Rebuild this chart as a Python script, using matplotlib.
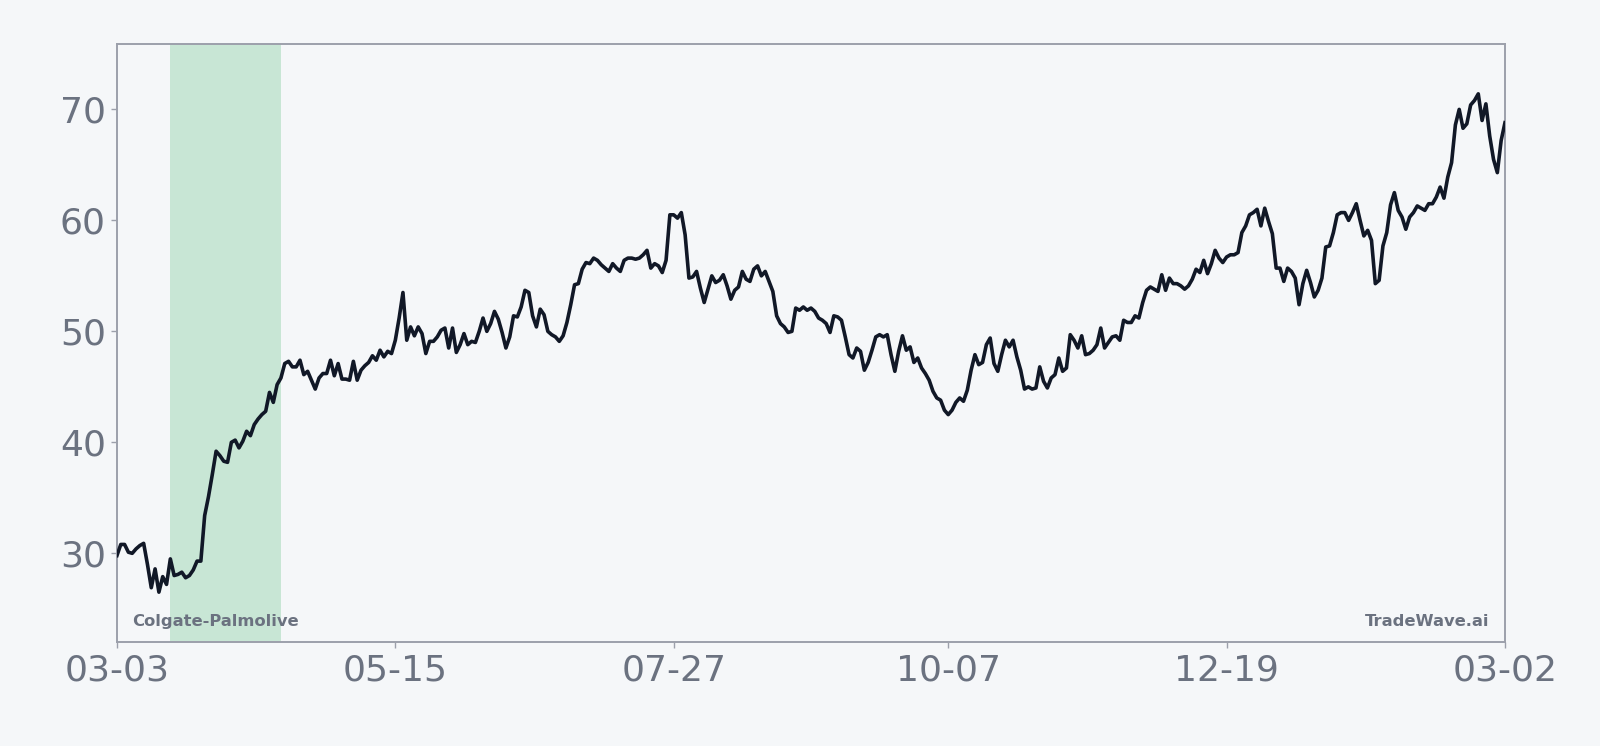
import numpy as np
import pandas as pd
import matplotlib
matplotlib.use("Agg")
import matplotlib.pyplot as plt
import matplotlib.dates as mdates

# daily closing prices, 2024-03-03 .. 2025-03-02
start_date = "2024-03-03"
prices = [
    29.8, 30.8, 30.8, 30.1, 30.0, 30.4, 30.7, 30.9, 29.0, 26.9,
    28.6, 26.5, 27.9, 27.2, 29.5, 28.0, 28.1, 28.3, 27.8, 28.0,
    28.5, 29.3, 29.3, 33.4, 35.1, 37.1, 39.2, 38.8, 38.3, 38.2,
    40.0, 40.2, 39.5, 40.1, 41.0, 40.6, 41.6, 42.1, 42.5, 42.8,
    44.5, 43.6, 45.2, 45.8, 47.1, 47.3, 46.8, 46.8, 47.4, 46.1,
    46.4, 45.6, 44.8, 45.8, 46.2, 46.2, 47.4, 46.0, 47.1, 45.7,
    45.7, 45.6, 47.3, 45.6, 46.5, 46.9, 47.2, 47.8, 47.4, 48.3,
    47.7, 48.2, 48.0, 49.2, 51.2, 53.5, 49.2, 50.4, 49.6, 50.4,
    49.8, 48.0, 49.1, 49.1, 49.5, 50.1, 50.3, 48.5, 50.3, 48.1,
    48.8, 49.8, 48.8, 49.1, 49.0, 50.0, 51.2, 50.0, 50.7, 51.8,
    51.1, 49.9, 48.5, 49.5, 51.4, 51.3, 52.2, 53.7, 53.5, 51.4,
    50.4, 52.0, 51.5, 50.0, 49.7, 49.5, 49.1, 49.6, 50.8, 52.4,
    54.2, 54.3, 55.6, 56.2, 56.1, 56.6, 56.4, 56.0, 55.7, 55.4,
    56.1, 55.7, 55.4, 56.4, 56.6, 56.6, 56.5, 56.6, 56.9, 57.3,
    55.7, 56.1, 55.9, 55.3, 56.4, 60.5, 60.5, 60.2, 60.7, 58.7,
    54.8, 54.9, 55.4, 53.9, 52.6, 53.8, 55.0, 54.4, 54.6, 55.1,
    54.1, 52.9, 53.7, 54.0, 55.4, 54.7, 54.5, 55.6, 55.9, 55.0,
    55.4, 54.5, 53.6, 51.4, 50.7, 50.4, 49.9, 50.0, 52.1, 51.9,
    52.2, 51.9, 52.1, 51.8, 51.2, 51.0, 50.7, 49.9, 51.4, 51.3,
    51.0, 49.5, 47.9, 47.6, 48.5, 48.2, 46.5, 47.2, 48.3, 49.5,
    49.7, 49.5, 49.7, 47.9, 46.4, 48.2, 49.6, 48.3, 48.6, 47.2,
    47.6, 46.7, 46.2, 45.6, 44.6, 44.0, 43.8, 42.9, 42.5, 42.9,
    43.6, 44.0, 43.7, 44.7, 46.5, 47.9, 47.0, 47.2, 48.8, 49.4,
    47.1, 46.4, 47.9, 49.2, 48.6, 49.2, 47.7, 46.5, 44.8, 45.0,
    44.8, 44.9, 46.8, 45.5, 44.9, 45.8, 46.1, 47.6, 46.4, 46.7,
    49.7, 49.2, 48.5, 49.6, 47.9, 48.0, 48.3, 48.8, 50.3, 48.5,
    49.0, 49.5, 49.6, 49.2, 51.0, 50.8, 50.8, 51.4, 51.2, 52.6,
    53.7, 54.0, 53.8, 53.6, 55.1, 53.7, 54.8, 54.3, 54.3, 54.1,
    53.8, 54.1, 54.7, 55.6, 55.3, 56.4, 55.2, 56.1, 57.3, 56.6,
    56.2, 56.7, 56.9, 56.9, 57.1, 58.9, 59.5, 60.5, 60.7, 61.0,
    59.5, 61.1, 59.9, 58.8, 55.7, 55.7, 54.5, 55.7, 55.4, 54.8,
    52.4, 54.3, 55.5, 54.4, 53.1, 53.7, 54.8, 57.6, 57.7, 58.9,
    60.5, 60.7, 60.7, 60.0, 60.7, 61.5, 60.0, 58.6, 59.1, 58.2,
    54.3, 54.6, 57.7, 58.9, 61.4, 62.5, 60.9, 60.3, 59.2, 60.3,
    60.7, 61.3, 61.1, 60.9, 61.5, 61.5, 62.1, 63.0, 62.0, 63.9,
    65.2, 68.6, 70.0, 68.3, 68.7, 70.4, 70.8, 71.4, 69.0, 70.5,
    67.6, 65.5, 64.3, 67.2, 68.8,
]
highlight_start = "2024-03-17"
highlight_end = "2024-04-15"
ticker_name = "Colgate-Palmolive"
brand = "TradeWave.ai"
y_ticks = [30, 40, 50, 60, 70]

dates = pd.date_range(start_date, periods=len(prices), freq="D")
prices = np.array(prices)

bg = "#f5f7f9"
grey = "#6b7280"

fig = plt.figure(figsize=(16, 7.46), dpi=100, facecolor=bg)
ax = fig.add_axes([0.0731, 0.1394, 0.8675, 0.8016])
ax.set_facecolor(bg)

ax.axvspan(pd.Timestamp(highlight_start), pd.Timestamp(highlight_end),
           color="#c8e6d5", lw=0, zorder=1)
ax.plot(dates, prices, color="#111827", lw=2.6, zorder=3)

ax.set_xlim(dates[0], dates[-1])
rng = prices.max() - prices.min()
ax.set_ylim(prices.min() - 0.1 * rng, prices.max() + 0.1 * rng)

idx = np.round(np.linspace(0, len(dates) - 1, 6)).astype(int)
ax.set_xticks(dates[idx])
ax.xaxis.set_major_formatter(mdates.DateFormatter("%m-%d"))
ax.set_yticks(y_ticks)

for s in ax.spines.values():
    s.set_color("#9ca0ab")
    s.set_linewidth(1.4)
ax.tick_params(colors="#9ca0ab", labelcolor=grey, labelsize=26,
               length=4, width=1, pad=4)

ax.text(0.0108, 0.035, ticker_name, transform=ax.transAxes, fontsize=11.8,
        fontweight="bold", color=grey, ha="left", va="center")
ax.text(0.989, 0.035, brand, transform=ax.transAxes, fontsize=11.8,
        fontweight="bold", color=grey, ha="right", va="center")

fig.savefig("out.png", dpi=100, facecolor=bg)
